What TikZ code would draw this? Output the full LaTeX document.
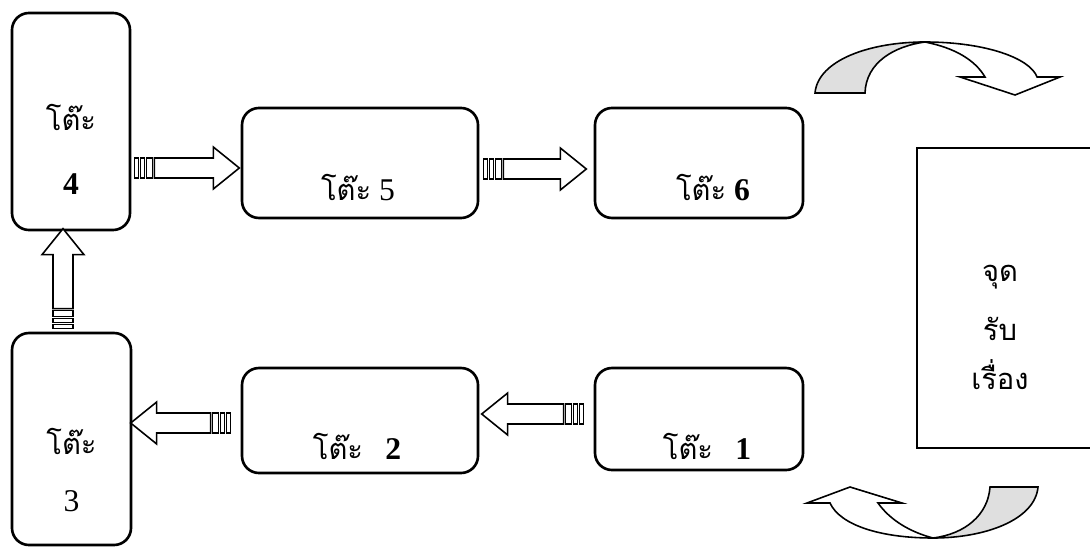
\documentclass[tikz,border=0pt]{standalone}
\usepackage{fontspec}
\setmainfont{Liberation Serif}
\newfontfamily\thaifont[Script=Thai, Scale=0.92]{Loma}
\usetikzlibrary{calc}

\tikzset{
  desk/.style={draw, line width=1.5pt, rounded corners=3.4mm, inner sep=0pt},
  counter/.style={draw, line width=1.5pt, inner sep=0pt},
  desklabel/.style={anchor=base, inner sep=0pt, font=\fontsize{18}{22}\selectfont},
  blockline/.style={draw, line width=0.9pt, fill=white, line join=miter},
  turnline/.style={draw, line width=0.9pt, line join=miter},
  stripedarrow/.pic={
    \path[blockline] (0,-10) rectangle (4,10);
    \path[blockline] (6,-10) rectangle (10,10);
    \path[blockline] (12,-10) rectangle (18,10);
    \path[blockline] (20,-10) -- (#1-26,-10) -- (#1-26,-21) -- (#1,0)
      -- (#1-26,21) -- (#1-26,10) -- (20,10) -- cycle;
  },
}

\begin{document}
\begin{tikzpicture}[x=0.2mm, y=-0.2mm]
\useasboundingbox (0,0) rectangle (1090,548);
% --- desks ---
\node[desk, minimum width=23.6mm, minimum height=43.4mm] (desk4) at (71,121.5) {};
\node[desk, minimum width=23.8mm, minimum height=42.4mm] (desk3) at (71.5,439) {};
\node[desk, minimum width=47.2mm, minimum height=22mm] (desk5) at (360,163) {};
\node[desk, minimum width=41.6mm, minimum height=22mm] (desk6) at (699,163) {};
\node[desk, minimum width=47.2mm, minimum height=21mm] (desk2) at (360,420.5) {};
\node[desk, minimum width=41.6mm, minimum height=20.4mm] (desk1) at (699,419) {};
% receiving point (runs off the right edge)
\node[counter, minimum width=36mm, minimum height=60mm] (counter) at (1007,298) {};

% --- labels ---
\node[desklabel] (word4) at ($(desk4.center)+(0,9.5)$) {\thaifont โต๊ะ};
\node[desklabel] (num4) at ($(desk4.center)+(0,72.5)$) {\bfseries 4};
\node[desklabel] (word3) at ($(desk3.center)+(0,15)$) {\thaifont โต๊ะ};
\node[desklabel] (num3) at ($(desk3.center)+(0,72)$) {3};
\node[desklabel] (word5) at ($(desk5.center)+(-2,38)$) {{\thaifont โต๊ะ} 5};
\node[desklabel] (word6) at ($(desk6.center)+(14,38)$) {{\thaifont โต๊ะ} \bfseries 6};
\node[desklabel] (word2) at ($(desk2.center)+(-3,38.5)$) {{\thaifont โต๊ะ}\hspace{0.7em}\bfseries 2};
\node[desklabel] (word1) at ($(desk1.center)+(8,40)$) {{\thaifont โต๊ะ}\hspace{0.7em}\bfseries 1};
\node[desklabel] (counter1) at (1000,281) {\thaifont จุด};
\node[desklabel] (counter2) at (1000,340) {\thaifont รับ};
\node[desklabel] (counter3) at (1000,389) {\thaifont เรื่อง};

% --- striped block arrows ---
\pic[rotate=0] at ($(desk4.east |- desk5.center)+(3,5)$) {stripedarrow=105};
\pic[rotate=0] at ($(desk5.east)+(4,6)$) {stripedarrow=103};
\pic[rotate=180] at ($(desk1.west)+(-10,-5)$) {stripedarrow=102};
\pic[rotate=180] at ($(desk2.west)+(-10,2.5)$) {stripedarrow=100};
\pic[rotate=90] at ($(desk3.north)+(-8.5,-3)$) {stripedarrow=100};

% --- curved arrow, top ---
\path[turnline, fill=gray!25] (815,93) .. controls (818,60) and (870,42) .. (925,42)
  .. controls (895,46) and (866,62) .. (865,93) -- cycle;
\path[turnline, fill=white] (925,42) .. controls (985,42) and (1030,58) .. (1037,77)
  -- (1060,77) -- (1015,95) -- (960,77) -- (985,77)
  .. controls (975,60) and (955,48) .. (925,42) -- cycle;

% --- curved arrow, bottom ---
\path[turnline, fill=gray!25] (1038,487) .. controls (1035,520) and (985,538) .. (933,538)
  .. controls (965,534) and (988,515) .. (990,487) -- cycle;
\path[turnline, fill=white] (933,538) .. controls (880,538) and (840,525) .. (830,503)
  -- (807,503) -- (850,487) -- (902,503) -- (878,503)
  .. controls (890,520) and (910,532) .. (933,538) -- cycle;
\end{tikzpicture}
\end{document}
